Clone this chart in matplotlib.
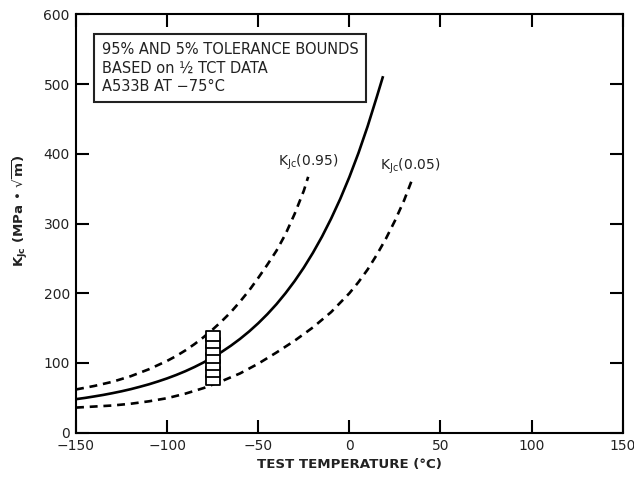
import matplotlib
matplotlib.use("Agg")
import matplotlib.pyplot as plt
from matplotlib.path import Path

plt.rcParams['font.family'] = ['DejaVu Sans']
plt.rcParams['mathtext.fontset'] = 'dejavusans'

# ---- data ----
temp_median = [-150, -145, -140, -135, -130, -125, -120, -115, -110, -105, -100, -95, -90, -85, -80,
               -75, -70, -65, -60, -55, -50, -45, -40, -35, -30, -25, -20, -15, -10, -5, 0, 5, 10, 15, 18.5]
kjc_median = [48.1, 49.9, 52.0, 54.2, 56.7, 59.4, 62.4, 65.8, 69.4, 73.5, 77.9, 82.8, 88.2, 94.2, 100.8,
              108.0, 116.0, 124.8, 134.5, 145.2, 157.0, 170.0, 184.3, 200.2, 217.6, 236.8, 258.0, 281.3,
              307.1, 335.4, 366.7, 401.2, 439.3, 481.2, 511.4]

temp_upper = [-150, -145, -140, -135, -130, -125, -120, -115, -110, -105, -100, -95, -90, -85, -80,
              -75, -70, -65, -60, -55, -50, -45, -40, -35, -30, -25, -22.6]
kjc_upper = [62, 64.5, 67, 70, 73, 77, 81, 86, 91, 97, 103, 110, 118, 127, 137,
             148, 160, 173, 188, 204, 222, 241, 261, 285, 314, 347, 367]

temp_lower = [-150, -140, -130, -120, -110, -100, -90, -80, -70, -60, -50, -40, -30, -20, -10,
              0, 5, 10, 15, 20, 25, 30, 35]
kjc_lower = [36, 37.5, 39, 41.5, 45, 49.5, 56, 64, 74, 85, 99, 115, 132, 151, 173,
             200, 216, 234, 255, 278, 304, 333, 367]

data_temp = -75
data_kjc = [76.2, 86.6, 97.1, 107.5, 117.9, 128.3, 138.8]

x_ticks = [-150, -100, -50, 0, 50, 100, 150]
y_ticks = [0, 100, 200, 300, 400, 500, 600]

box_text = "95% AND 5% TOLERANCE BOUNDS\nBASED on \u00bd TCT DATA\nA533B AT \u221275\u00b0C"
label_upper = r"K$_{Jc}$(0.95)"
label_lower = r"K$_{Jc}$(0.05)"
xlabel = "TEST TEMPERATURE (\u00b0C)"
ylabel = r"K$_{\mathbf{Jc}}$ (MPa " + "\u2022" + r" $\sqrt{\mathbf{m}}$)"

# ---- figure ----
fig = plt.figure(figsize=(6.34, 4.78), dpi=100)
ax = fig.add_axes([0.1199, 0.0948, 0.8623, 0.8751])

text_color = '#222222'
lw = 1.9
ax.plot(temp_median, kjc_median, color='black', lw=lw, solid_capstyle='butt')
ax.plot(temp_upper, kjc_upper, color='black', lw=lw, dashes=(3.0, 2.2), dash_capstyle='butt')
ax.plot(temp_lower, kjc_lower, color='black', lw=lw, dashes=(3.0, 2.2), dash_capstyle='butt')

# stacked rectangular markers for the data points at -75 C
rect = Path([(-0.5, -0.39), (0.5, -0.39), (0.5, 0.39), (-0.5, 0.39), (-0.5, -0.39)],
            [Path.MOVETO, Path.LINETO, Path.LINETO, Path.LINETO, Path.CLOSEPOLY])
ax.plot([data_temp] * len(data_kjc), data_kjc, linestyle='none', marker=rect,
        markersize=9.6, markerfacecolor='white', markeredgecolor='black', markeredgewidth=1.3)

ax.set_xlim(-150, 150)
ax.set_ylim(0, 600)
ax.set_xticks(x_ticks)
ax.set_yticks(y_ticks)
ax.set_xticklabels([f"{v:d}".replace('-', '\u2212') for v in x_ticks])
ax.set_yticklabels([str(v) for v in y_ticks])
ax.tick_params(direction='in', length=9.5, width=1.5, top=True, right=True,
               labelsize=10, labelcolor=text_color, pad=4.5)
for s in ax.spines.values():
    s.set_linewidth(1.5)

ax.set_xlabel(xlabel, fontsize=9.6, fontweight='bold', color=text_color, labelpad=4)
plt.rcParams['mathtext.default'] = 'bf'
ax.set_ylabel(ylabel, fontsize=9.6, fontweight='bold', color=text_color, labelpad=6)
ax.yaxis.set_label_coords(-0.084, 0.53)

ax.text(-136, 561, box_text, fontsize=10.5, color=text_color, ha='left', va='top',
        linespacing=1.32,
        bbox=dict(boxstyle='square,pad=0.5', facecolor='white', edgecolor='#222222', linewidth=1.5))

plt.rcParams['mathtext.default'] = 'regular'
ax.text(-39, 383, label_upper, fontsize=10, color=text_color, ha='left', va='baseline')
ax.text(17, 377, label_lower, fontsize=10, color=text_color, ha='left', va='baseline')

fig.savefig('out.png', dpi=100)
